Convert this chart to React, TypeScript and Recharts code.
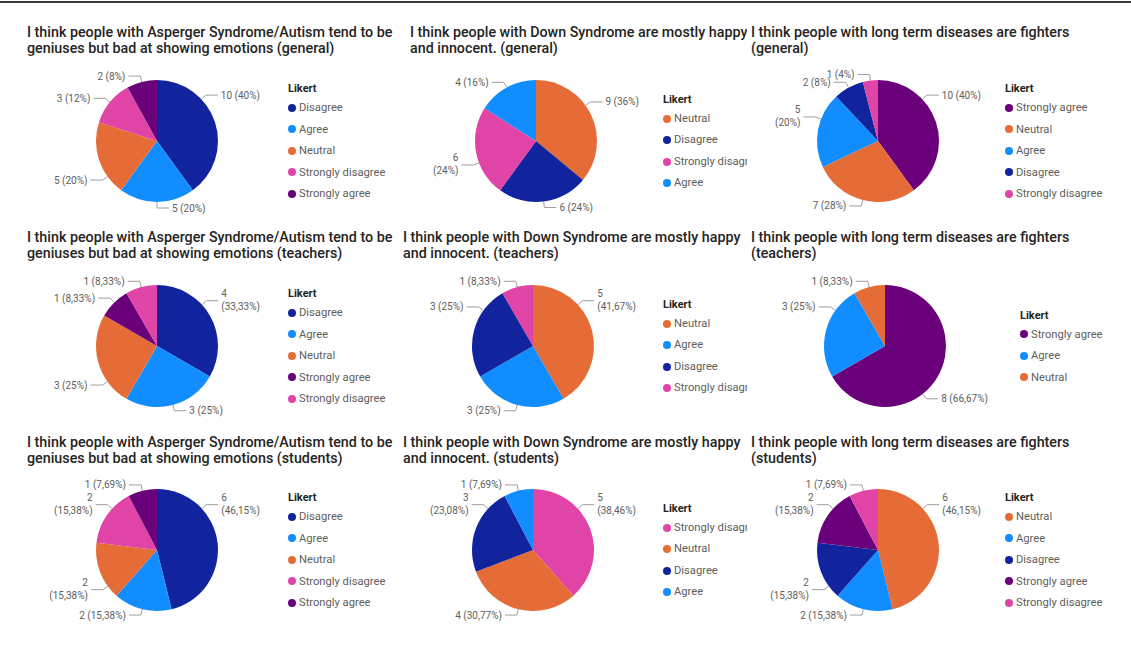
import { PieChart, Pie, Cell, Legend } from 'recharts';

// Power BI default palette, keyed by Likert answer
const likertColors: Record<string, string> = {
  'Disagree': '#12239E',
  'Agree': '#118DFF',
  'Neutral': '#E66C37',
  'Strongly disagree': '#E044A7',
  'Strongly agree': '#6B007B',
};

// Asperger / Autism question
const aspGeneralCats = ['Disagree', 'Agree', 'Neutral', 'Strongly disagree', 'Strongly agree'];
const aspGeneralVals = [10, 5, 5, 3, 2];
const aspTeachersCats = ['Disagree', 'Agree', 'Neutral', 'Strongly agree', 'Strongly disagree'];
const aspTeachersVals = [4, 3, 3, 1, 1];
const aspStudentsCats = ['Disagree', 'Agree', 'Neutral', 'Strongly disagree', 'Strongly agree'];
const aspStudentsVals = [6, 2, 2, 2, 1];

// Down Syndrome question
const downGeneralCats = ['Neutral', 'Disagree', 'Strongly disagree', 'Agree'];
const downGeneralVals = [9, 6, 6, 4];
const downTeachersCats = ['Neutral', 'Agree', 'Disagree', 'Strongly disagree'];
const downTeachersVals = [5, 3, 3, 1];
const downStudentsCats = ['Strongly disagree', 'Neutral', 'Disagree', 'Agree'];
const downStudentsVals = [5, 4, 3, 1];

// long term diseases question
const longGeneralCats = ['Strongly agree', 'Neutral', 'Agree', 'Disagree', 'Strongly disagree'];
const longGeneralVals = [10, 7, 5, 2, 1];
const longTeachersCats = ['Strongly agree', 'Agree', 'Neutral'];
const longTeachersVals = [8, 3, 1];
const longStudentsCats = ['Neutral', 'Agree', 'Disagree', 'Strongly agree', 'Strongly disagree'];
const longStudentsVals = [6, 2, 2, 2, 1];

const aspTitle = ['I think people with Asperger Syndrome/Autism tend to be', 'geniuses but bad at showing emotions'];
const downTitle = ['I think people with Down Syndrome are mostly happy', 'and innocent.'];
const longTitle = ['I think people with long term diseases are fighters', ''];
const groups = ['general', 'teachers', 'students'];

const FONT = 'Roboto, "Segoe UI", Arial, sans-serif';
const RADIAN = Math.PI / 180;
const ROW_H = 205;
const E_MAX = 103; // how far a label may reach sideways from the pie centre

const toRows = (cats: string[], vals: number[]) => cats.map((likert, i) => ({ likert, count: vals[i] }));

const fmtPct = (p: number) => (p * 100).toFixed(2).replace(/\.?0+$/, '').replace('.', ',');

// rough Roboto 10px advance widths
const CH: Record<string, number> = { ' ': 2.48, '(': 3.42, ')': 3.48, '%': 7.32, ',': 1.96 };
const textW = (s: string) => [...s].reduce((w, c) => w + (CH[c] ?? 5.62), 0);

// slide an angle (clockwise from 12 o'clock) toward the nearest pole until |sin| <= s
const fitAngle = (a: number, s: number) => {
  const d = Math.asin(Math.max(0, Math.min(1, s))) / RADIAN;
  if (a < 90) return Math.min(a, d);
  if (a < 180) return Math.max(a, 180 - d);
  if (a < 270) return Math.min(a, 180 + d);
  return Math.max(a, 360 - d);
};

const renderLabel = (props: any) => {
  const { cx, cy, midAngle, outerRadius, value, percent } = props;
  const aMid = (((90 - midAngle) % 360) + 360) % 360;
  const span = percent * 360;
  const lo = aMid - span * 0.28;
  const hi = aMid + span * 0.28;
  const pct = `(${fmtPct(percent)}%)`;
  const single = `${value} ${pct}`;
  const need = (w: number) => (E_MAX - 15 - w) / (outerRadius + 6);
  const w1 = textW(single);
  const w2 = Math.max(textW(String(value)), textW(pct));
  let a = fitAngle(aMid, need(w1));
  let wrap = false;
  const moved = Math.abs(a - aMid) > 0.01;
  if (moved && (a < lo || a > hi || (w1 > 44 && span <= 180))) {
    wrap = true;
    a = Math.min(hi, Math.max(lo, fitAngle(aMid, need(w2))));
  }
  const sinA = Math.sin(a * RADIAN);
  const cosA = Math.cos(a * RADIAN);
  const sx = cx + outerRadius * sinA;
  const sy = cy - outerRadius * cosA;
  const mx = cx + (outerRadius + 6) * sinA;
  const my = cy - (outerRadius + 6) * cosA;
  const side = sinA >= -0.001 ? 1 : -1;
  const ex = mx + side * 12;
  const tx = ex + side * 3;
  const anchor = side > 0 ? 'start' : 'end';
  return (
    <g>
      <path d={`M${sx},${sy}L${mx},${my}L${ex},${my}`} stroke="#A19F9D" fill="none" strokeWidth={1} />
      {wrap ? (
        <text x={tx} y={my} textAnchor={anchor} fill="#605E5C" fontSize={10} fontFamily={FONT}>
          <tspan x={tx} dy={-4}>{value}</tspan>
          <tspan x={tx} dy={13}>{pct}</tspan>
        </text>
      ) : (
        <text x={tx} y={my} dy={3.5} textAnchor={anchor} fill="#605E5C" fontSize={10} fontFamily={FONT}>
          {single}
        </text>
      )}
    </g>
  );
};

const renderLegend = (props: any, order: string[]) => {
  const items = [...(props.payload || [])].sort((p: any, q: any) => order.indexOf(p.value) - order.indexOf(q.value));
  return (
    <div style={{ fontFamily: FONT }}>
      <div style={{ height: 17, lineHeight: '17px', fontSize: 11, fontWeight: 700, color: '#252423' }}>Likert</div>
      {items.map((entry: any) => (
        <div key={entry.value} style={{ height: 21.5, lineHeight: '21.5px', fontSize: 11.2, color: '#605E5C', display: 'flex', alignItems: 'center' }}>
          <span style={{ width: 8, height: 8, borderRadius: 4, background: entry.color, display: 'inline-block', marginRight: 3, flex: 'none' }} />
          <span>{entry.value}</span>
        </div>
      ))}
    </div>
  );
};

interface PanelProps {
  left: number;
  top: number;
  width: number;
  title: string[];
  titleLeft: number;
  titleWidth: number;
  data: { likert: string; count: number }[];
  cx: number;
  cy: number;
  legendLeft: number;
  legendWidth: number;
}

function Panel({ left, top, width, title, titleLeft, titleWidth, data, cx, cy, legendLeft, legendWidth }: PanelProps) {
  const firstItem = cy + 9 - ((data.length - 1) * 21.5) / 2;
  const likertY = firstItem - 18.5;
  const order = data.map((d) => d.likert);
  const lineStyle: React.CSSProperties = {
    height: 16, lineHeight: '16px', whiteSpace: 'nowrap', overflow: 'hidden', width: titleWidth,
  };
  return (
    <div style={{ position: 'absolute', left, top, width, height: ROW_H }}>
      <div style={{ position: 'absolute', left: 0, top: 0 }}>
        <PieChart width={width} height={ROW_H + 22} margin={{ top: 0, right: 0, bottom: 0, left: 0 }}>
          <Pie
            data={data} dataKey="count" nameKey="likert" cx={cx} cy={cy} outerRadius={61}
            startAngle={90} endAngle={-270} stroke="none" label={renderLabel} labelLine={false}
            isAnimationActive={false}
          >
            {data.map((d) => <Cell key={d.likert} fill={likertColors[d.likert]} />)}
          </Pie>
          <Legend
            layout="vertical" align="right" verticalAlign="middle" content={(p: any) => renderLegend(p, order)}
            wrapperStyle={{ left: legendLeft, top: likertY - 8.5, width: legendWidth, overflow: 'hidden', whiteSpace: 'nowrap' }}
          />
        </PieChart>
      </div>
      <div style={{ position: 'absolute', left: titleLeft, top: 24, fontFamily: FONT, fontSize: 14.3, fontWeight: 500, color: '#252423' }}>
        <div style={lineStyle}>{title[0]}</div>
        <div style={lineStyle}>{title[1]}</div>
      </div>
    </div>
  );
}

const withGroup = (t: string[], g: string) => [t[0], t[1] ? `${t[1]} (${g})` : `(${g})`];

export default function App() {
  const panels: PanelProps[] = [
    // column 1 — Asperger
    { left: 0, top: 0, width: 400, title: withGroup(aspTitle, groups[0]), titleLeft: 27, titleWidth: 371, data: toRows(aspGeneralCats, aspGeneralVals), cx: 157, cy: 141, legendLeft: 288, legendWidth: 110 },
    { left: 0, top: ROW_H, width: 400, title: withGroup(aspTitle, groups[1]), titleLeft: 27, titleWidth: 371, data: toRows(aspTeachersCats, aspTeachersVals), cx: 157, cy: 141, legendLeft: 288, legendWidth: 110 },
    { left: 0, top: ROW_H * 2, width: 400, title: withGroup(aspTitle, groups[2]), titleLeft: 27, titleWidth: 371, data: toRows(aspStudentsCats, aspStudentsVals), cx: 157, cy: 140, legendLeft: 288, legendWidth: 110 },
    // column 2 — Down Syndrome
    { left: 400, top: 0, width: 345, title: withGroup(downTitle, groups[0]), titleLeft: 10, titleWidth: 337, data: toRows(downGeneralCats, downGeneralVals), cx: 136, cy: 141, legendLeft: 263, legendWidth: 84 },
    { left: 400, top: ROW_H, width: 345, title: withGroup(downTitle, groups[1]), titleLeft: 3, titleWidth: 344, data: toRows(downTeachersCats, downTeachersVals), cx: 133, cy: 141, legendLeft: 263, legendWidth: 84 },
    { left: 400, top: ROW_H * 2, width: 345, title: withGroup(downTitle, groups[2]), titleLeft: 3, titleWidth: 344, data: toRows(downStudentsCats, downStudentsVals), cx: 133, cy: 140, legendLeft: 263, legendWidth: 84 },
    // column 3 — long term diseases
    { left: 745, top: 0, width: 386, title: withGroup(longTitle, groups[0]), titleLeft: 6, titleWidth: 375, data: toRows(longGeneralCats, longGeneralVals), cx: 133, cy: 141, legendLeft: 260, legendWidth: 120 },
    { left: 745, top: ROW_H, width: 386, title: withGroup(longTitle, groups[1]), titleLeft: 6, titleWidth: 375, data: toRows(longTeachersCats, longTeachersVals), cx: 140, cy: 141, legendLeft: 275, legendWidth: 110 },
    { left: 745, top: ROW_H * 2, width: 386, title: withGroup(longTitle, groups[2]), titleLeft: 6, titleWidth: 375, data: toRows(longStudentsCats, longStudentsVals), cx: 133, cy: 140, legendLeft: 260, legendWidth: 120 },
  ];
  return (
    <div style={{ position: 'absolute', left: 0, top: 0, width: 1131, height: 655, background: '#fff', overflow: 'hidden' }}>
      <div style={{ position: 'absolute', left: 0, top: 1, width: 1131, height: 2, background: '#3a3a3a' }} />
      {panels.map((p, i) => <Panel key={i} {...p} />)}
    </div>
  );
}
